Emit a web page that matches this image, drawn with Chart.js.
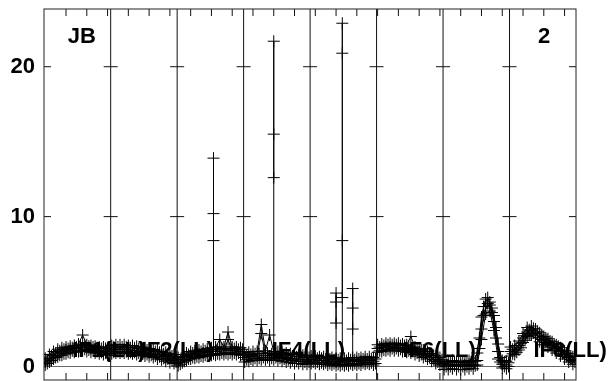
<!DOCTYPE html>
<html>
<head>
<meta charset="utf-8">
<script src="https://cdn.jsdelivr.net/npm/chart.js@4.4.1/dist/chart.umd.min.js"></script>
<style>body{margin:0;background:#fff}</style>
</head>
<body>
<canvas id="c" width="611" height="381"></canvas>
<script>
// y axis labels
const yTicks = [0, 10, 20];
// channel ticks (every 10 channels), panel edges (32 channels per IF)
const chanTicks = [10,20,30,40,50,60,70,80,90,100,110,120,130,140,150,160,170,180,190,200,210,220,230,240,250];
const panelEdges = [31.5, 63.5, 95.5, 127.5, 159.5, 191.5, 223.5];
const ifLabels = ['IF1(LL)', 'IF2(LL)', 'IF4(LL)', 'IF6(LL)', 'IF8(LL)'];
const ifLabelChan = [13, 46, 109, 172, 235];

// amplitude on even channels, 16 per IF, three overlapping records
const seriesA = [
  0.55,0.8,1.0,1.15,1.25,1.3,1.35,1.4,1.5,2.1,1.45,1.4,1.35,1.3,1.3,1.25,
  1.4,1.45,1.45,1.45,1.4,1.4,1.35,1.3,1.25,1.2,1.15,1.1,1.0,0.95,0.85,0.8,
  0.6,0.8,0.9,1.0,1.05,1.1,1.15,1.2,1.25,1.3,1.8,1.3,2.3,1.3,1.3,1.25,
  0.9,0.95,1.0,1.0,2.8,1.05,2.1,1.0,1.0,0.95,0.9,0.85,0.8,0.8,0.75,0.75,
  0.7,0.7,0.65,0.65,0.6,0.6,0.55,0.55,0.55,0.55,0.6,0.6,0.6,0.65,0.65,0.6,
  1.45,1.5,1.55,1.55,1.55,1.55,1.5,1.45,2.0,1.3,1.2,1.1,1.0,0.85,0.7,0.6,
  0.35,0.35,0.4,0.35,0.35,0.35,0.4,0.4,0.9,3.3,4.5,4.3,3.4,1.5,0.4,0.35,
  1.3,1.4,1.7,2.2,2.6,2.7,2.5,2.25,2.0,1.85,1.65,1.45,1.25,1.05,0.85,0.65
];
const seriesB = [
  0.3,0.55,0.75,0.9,1.0,1.1,1.15,1.2,1.25,1.3,1.25,1.2,1.15,1.1,1.05,1.0,
  1.1,1.15,1.15,1.15,1.1,1.1,1.05,1.0,0.95,0.9,0.85,0.8,0.7,0.65,0.55,0.5,
  0.3,0.5,0.65,0.75,0.8,0.85,0.9,0.95,1.0,1.0,1.3,1.05,1.8,1.05,1.05,1.0,
  0.6,0.65,0.7,0.7,2.2,0.75,0.7,0.75,0.7,0.65,0.6,0.55,0.5,0.5,0.45,0.45,
  0.45,0.45,0.4,0.4,0.35,0.35,0.3,0.3,0.3,0.3,0.35,0.35,0.35,0.4,0.4,0.35,
  1.2,1.25,1.3,1.3,1.3,1.3,1.25,1.2,1.15,1.05,0.95,0.85,0.75,0.6,0.45,0.35,
  0.1,0.1,0.15,0.1,0.1,0.1,0.15,0.15,0.4,2.5,4.0,4.1,3.0,1.0,0.15,0.1,
  1.0,1.1,1.4,1.9,2.3,2.4,2.2,1.95,1.75,1.6,1.4,1.2,1.0,0.8,0.6,0.4
];
const seriesC = [
  0.1,0.3,0.5,0.65,0.75,0.85,0.9,0.95,1.0,1.05,1.0,0.95,0.9,0.85,0.8,0.75,
  0.85,0.9,0.9,0.9,0.85,0.85,0.8,0.75,0.7,0.65,0.6,0.5,0.45,0.35,0.25,0.2,
  0.05,0.25,0.4,0.5,0.55,0.6,0.65,0.7,0.75,0.75,0.8,0.8,0.8,0.8,0.8,0.75,
  0.3,0.35,0.4,0.4,0.45,0.45,0.4,0.45,0.4,0.35,0.3,0.25,0.2,0.2,0.15,0.15,
  0.2,0.2,0.15,0.15,0.1,0.1,0.05,0.05,0.05,0.05,0.1,0.1,0.1,0.15,0.15,0.1,
  0.95,1.0,1.05,1.05,1.05,1.05,1.0,0.95,0.9,0.8,0.7,0.6,0.5,0.35,0.2,0.1,
  -0.2,-0.2,-0.15,-0.2,-0.2,-0.2,-0.15,-0.15,0.1,1.8,3.5,3.7,2.4,0.5,-0.1,-0.15,
  0.7,0.8,1.1,1.6,2.0,2.1,1.9,1.65,1.45,1.3,1.1,0.9,0.7,0.5,0.3,0.15
];
// amplitude on odd channels, two more records
const seriesD = [
  0.45,0.7,0.9,1.05,1.15,1.2,1.25,1.3,1.4,1.45,1.35,1.3,1.25,1.2,1.2,1.15,
  1.3,1.3,1.3,1.3,1.25,1.25,1.2,1.15,1.1,1.05,1.0,0.95,0.85,0.8,0.7,0.65,
  0.45,0.65,0.8,0.9,0.95,1.0,1.05,1.1,1.15,1.15,1.2,1.15,1.2,1.2,1.15,1.15,
  0.75,0.8,0.85,0.85,0.9,0.9,0.85,0.9,0.85,0.8,0.75,0.7,0.65,0.65,0.6,0.6,
  0.6,0.55,0.55,0.5,0.5,0.45,0.45,0.45,0.4,0.45,0.45,0.5,0.5,0.5,0.5,0.5,
  1.3,1.4,1.45,1.45,1.45,1.4,1.4,1.35,1.25,1.2,1.1,1.0,0.85,0.75,0.6,0.45,
  0.25,0.25,0.3,0.25,0.25,0.25,0.3,0.35,1.9,4.0,4.6,3.9,2.6,0.6,0.3,0.25,
  1.15,1.25,1.55,2.05,2.45,2.55,2.35,2.1,1.9,1.7,1.5,1.35,1.1,0.9,0.7,0.5
];
const seriesE = [
  0.2,0.4,0.6,0.75,0.85,0.95,1.05,1.05,1.1,1.15,1.1,1.05,1.0,0.95,0.9,0.85,
  0.95,1.0,1.0,1.0,0.95,0.95,0.9,0.85,0.8,0.75,0.7,0.65,0.55,0.5,0.4,0.3,
  0.15,0.35,0.5,0.6,0.65,0.7,0.75,0.8,0.85,0.85,0.9,0.9,0.9,0.9,0.9,0.85,
  0.45,0.5,0.55,0.55,0.6,0.6,0.55,0.6,0.55,0.5,0.45,0.4,0.35,0.35,0.3,0.3,
  0.3,0.3,0.25,0.25,0.2,0.2,0.15,0.15,0.15,0.2,0.2,0.2,0.25,0.25,0.25,0.2,
  1.05,1.1,1.15,1.2,1.2,1.15,1.1,1.05,1.0,0.9,0.8,0.7,0.6,0.45,0.3,0.2,
  0.0,0.0,0.05,0.0,0.0,0.0,0.05,0.05,1.2,3.4,4.2,3.6,1.9,0.3,0.0,0.0,
  0.85,0.95,1.25,1.75,2.15,2.25,2.05,1.8,1.6,1.45,1.25,1.05,0.85,0.65,0.45,0.3
];

// narrow spikes: channel and the amplitudes of the records at that channel
const spikeChan = [81, 110, 140, 143, 148];
const spikeVals = [
  [1.0, 13.9, 10.2, 8.4],
  [0.8, 21.7, 15.5, 12.6],
  [0.5, 4.9, 4.3, 2.9],
  [0.4, 22.9, 20.9, 8.4, 4.6],
  [0.4, 5.2, 3.9, 2.5]
];

const evenChans = seriesB.map((_, i) => i * 2);
const oddChans = seriesD.map((_, i) => i * 2 + 1);

const lineStyle = {
  borderColor: '#000',
  backgroundColor: '#000',
  borderWidth: 1,
  pointStyle: 'cross',
  pointRadius: 6,
  pointBorderWidth: 1,
  pointBorderColor: '#000',
  fill: false,
  tension: 0
};

const datasets = [];
function addRecord(s, chans) {
  for (let p = 0; p < 8; p++) {
    const pts = [];
    for (let i = p * 16; i < p * 16 + 16; i++) pts.push({x: chans[i], y: s[i]});
    datasets.push(Object.assign({data: pts}, lineStyle));
  }
}
[seriesA, seriesB, seriesC].forEach(s => addRecord(s, evenChans));
[seriesD, seriesE].forEach(s => addRecord(s, oddChans));
spikeChan.forEach((c, k) => {
  datasets.push(Object.assign({data: spikeVals[k].map(v => ({x: c, y: v}))}, lineStyle));
});

const FONT = '"Liberation Sans", Arial, sans-serif';

const framePlugin = {
  id: 'frame',
  beforeDatasetsDraw(chart) {
    const {ctx, chartArea: a, scales: {x, y}} = chart;
    ctx.save();
    ctx.lineWidth = 1;
    // zero line
    ctx.strokeStyle = '#666';
    ctx.beginPath();
    ctx.moveTo(a.left, y.getPixelForValue(0));
    ctx.lineTo(a.right, y.getPixelForValue(0));
    ctx.stroke();
    // panel dividers
    ctx.strokeStyle = '#111';
    panelEdges.forEach(e => {
      const px = x.getPixelForValue(e);
      ctx.beginPath(); ctx.moveTo(px, a.top); ctx.lineTo(px, a.bottom); ctx.stroke();
      yTicks.forEach(t => {
        if (t === 0) return;
        const py = y.getPixelForValue(t);
        ctx.beginPath(); ctx.moveTo(px - 7, py); ctx.lineTo(px + 7, py); ctx.stroke();
      });
    });
    // y ticks on the frame
    yTicks.forEach(t => {
      if (t === 0) return;
      const py = y.getPixelForValue(t);
      ctx.beginPath(); ctx.moveTo(a.left, py); ctx.lineTo(a.left + 7, py); ctx.stroke();
      ctx.beginPath(); ctx.moveTo(a.right - 7, py); ctx.lineTo(a.right, py); ctx.stroke();
    });
    // channel ticks top and bottom
    chanTicks.forEach(c => {
      const px = x.getPixelForValue(c);
      ctx.beginPath(); ctx.moveTo(px, a.top); ctx.lineTo(px, a.top + 7); ctx.stroke();
      ctx.beginPath(); ctx.moveTo(px, a.bottom); ctx.lineTo(px, a.bottom - 7); ctx.stroke();
    });
    // frame
    ctx.strokeStyle = '#222';
    ctx.strokeRect(a.left, a.top, a.right - a.left, a.bottom - a.top);
    // labels
    ctx.fillStyle = '#000';
    ctx.font = 'bold 22px ' + FONT;
    ctx.textBaseline = 'alphabetic';
    ctx.textAlign = 'left';
    ctx.fillText('JB', x.getPixelForValue(10.8), y.getPixelForValue(21.6));
    ctx.fillText('2', x.getPixelForValue(237.2), y.getPixelForValue(21.6));
    ifLabels.forEach((t, i) => {
      ctx.fillText(t, x.getPixelForValue(ifLabelChan[i]), y.getPixelForValue(0.63));
    });
    ctx.restore();
  }
};

new Chart(document.getElementById('c'), {
  type: 'line',
  data: {datasets: datasets},
  options: {
    responsive: false,
    animation: false,
    devicePixelRatio: 1,
    layout: {autoPadding: false, padding: {left: 0, top: 9, right: 35, bottom: 1}},
    plugins: {legend: {display: false}, tooltip: {enabled: false}},
    scales: {
      x: {
        type: 'linear',
        min: -0.6,
        max: 255.5,
        display: false
      },
      y: {
        min: -0.9,
        max: 23.85,
        grid: {display: false, drawTicks: false},
        border: {display: false},
        afterBuildTicks: s => { s.ticks = yTicks.map(v => ({value: v})); },
        afterFit: s => { s.width = 44; s.paddingTop = 0; s.paddingBottom = 0; },
        ticks: {
          padding: 9,
          color: '#000',
          font: {family: FONT, size: 22, weight: 'bold'}
        }
      }
    }
  },
  plugins: [framePlugin]
});
</script>
</body>
</html>
